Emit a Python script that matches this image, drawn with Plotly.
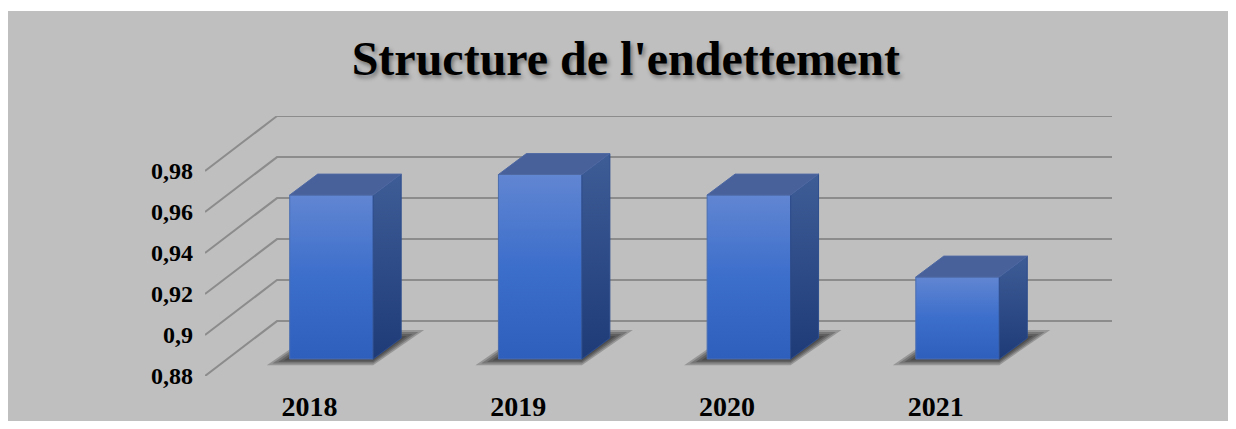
import plotly.graph_objects as go

# data
years = ["2018", "2019", "2020", "2021"]
ratios = [0.96, 0.97, 0.96, 0.92]
y_ticks = [0.88, 0.90, 0.92, 0.94, 0.96, 0.98]
y_tick_text = ["0,88", "0,9", "0,92", "0,94", "0,96", "0,98"]

# fake 3d projection (in axis units)
BASE = 0.88
HALF_W = 0.2
BAR_DX, BAR_DY = 0.134, 0.0102      # depth of a bar
FRONT_DX, FRONT_DY = -0.105, -0.0083  # bar plane -> front edge of floor
WALL_DX, WALL_DY = 0.345, 0.0268      # front edge -> back wall
X_RANGE = [-0.606, 3.740]
Y_RANGE = [0.87171, 0.99854]

BG = "#BFBFBF"
FONT = "Liberation Serif"

fig = go.Figure()

# gridlines: side wall diagonals + back wall
gx, gy = [], []
for v in y_ticks:
    yf = v + FRONT_DY
    gx += [X_RANGE[0], X_RANGE[0] + WALL_DX, X_RANGE[1], None]
    gy += [yf, yf + WALL_DY, yf + WALL_DY, None]
fig.add_trace(go.Scatter(x=gx, y=gy, mode="lines", line=dict(color="#8C8C8C", width=2),
                         hoverinfo="skip", showlegend=False))

xs = list(range(len(years)))

# floor shadows (blurred by stacking)
for i in xs:
    for k in [1.0, 0.75, 0.5, 0.25]:
        ex = 0.11 * k
        y_lo = BASE - 0.003 * k
        y_hi = BASE + BAR_DY + 0.004 * k
        fig.add_trace(go.Scatter(
            x=[i - HALF_W - ex, i + HALF_W, i + HALF_W + BAR_DX + ex, i - HALF_W + BAR_DX, i - HALF_W - ex],
            y=[y_lo, y_lo, y_hi, y_hi, y_lo],
            mode="lines", fill="toself", fillcolor="rgba(20,20,20,0.24)", line=dict(width=0),
            hoverinfo="skip", showlegend=False))

# bars: front, side, top
for i, v in zip(xs, ratios):
    l, r = i - HALF_W, i + HALF_W
    fig.add_trace(go.Scatter(
        x=[l, r, r, l, l], y=[BASE, BASE, v, v, BASE], mode="lines", fill="toself",
        fillgradient=dict(type="vertical", colorscale=[[0, "#2F5FBD"], [0.5, "#3C6ECB"], [1, "#6186D2"]]),
        line=dict(color="#4A6DB0", width=1), hoverinfo="skip", showlegend=False))
    fig.add_trace(go.Scatter(
        x=[r, r + BAR_DX, r + BAR_DX, r, r], y=[BASE, BASE + BAR_DY, v + BAR_DY, v, BASE],
        mode="lines", fill="toself",
        fillgradient=dict(type="vertical", colorscale=[[0, "#1E3B78"], [1, "#3E5C96"]]),
        line=dict(color="#2C4C8C", width=1), hoverinfo="skip", showlegend=False))
    fig.add_trace(go.Scatter(
        x=[l, r, r + BAR_DX, l + BAR_DX, l], y=[v, v, v + BAR_DY, v + BAR_DY, v],
        mode="lines", fill="toself", fillcolor="#48619A",
        line=dict(color="#4F69A3", width=1), hoverinfo="skip", showlegend=False))

fig.update_layout(
    width=1220, height=413,
    margin=dict(l=197, r=116, t=108, b=45),
    paper_bgcolor=BG, plot_bgcolor=BG,
    title=dict(text="Structure de l'endettement", x=0.464, xref="paper", xanchor="center",
               y=0.879, yref="container", yanchor="middle",
               font=dict(family=FONT, size=48, color="black", weight="bold",
                         shadow="2px 3px 4px rgba(0,0,0,0.4)")),
    xaxis=dict(range=X_RANGE, showgrid=False, zeroline=False, showline=False, automargin=False,
               tickvals=[i + FRONT_DX for i in xs], ticktext=years, ticks="",
               ticklabelstandoff=11,
               tickfont=dict(family=FONT, size=28, color="black", weight="bold"), fixedrange=True),
    yaxis=dict(range=Y_RANGE, showgrid=False, zeroline=False, showline=False, automargin=False,
               tickvals=[v + FRONT_DY for v in y_ticks], ticktext=y_tick_text, ticks="",
               ticklabelstandoff=11,
               tickfont=dict(family=FONT, size=24, color="black", weight="bold"), fixedrange=True),
    shapes=[
        # thin white strip above the chart area
        dict(type="rect", xref="paper", yref="paper", x0=-0.3, x1=1.2, y0=(368 - 3) / 260, y1=1.6,
             fillcolor="white", line=dict(width=0), layer="above"),
    ],
)

fig.write_html("out.html")
